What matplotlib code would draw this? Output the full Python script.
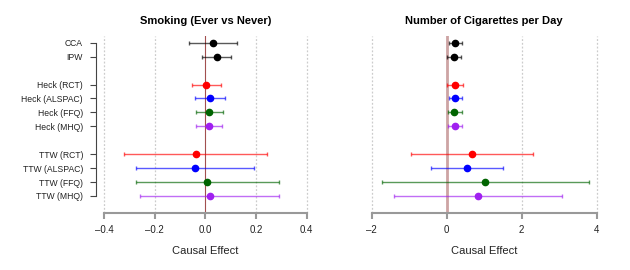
import matplotlib
matplotlib.use("Agg")
import matplotlib.pyplot as plt

plt.rcParams["font.family"] = ["Liberation Sans", "DejaVu Sans"]

labels = ["CCA", "IPW",
          "Heck (RCT)", "Heck (ALSPAC)", "Heck (FFQ)", "Heck (MHQ)",
          "TTW (RCT)", "TTW (ALSPAC)", "TTW (FFQ)", "TTW (MHQ)"]
rows = [1, 2, 4, 5, 6, 7, 9, 10, 11, 12]
colours = ["black", "black", "red", "blue", "darkgreen", "#A020F0",
           "red", "blue", "darkgreen", "#A020F0"]

# Smoking (Ever vs Never)
smk_est = [0.029, 0.045, 0.004, 0.017, 0.016, 0.016, -0.038, -0.042, 0.008, 0.017]
smk_lo = [-0.064, -0.012, -0.051, -0.042, -0.037, -0.035, -0.320, -0.275, -0.274, -0.257]
smk_hi = [0.124, 0.101, 0.063, 0.077, 0.070, 0.066, 0.244, 0.191, 0.290, 0.291]

# Number of cigarettes per day
cig_est = [0.23, 0.19, 0.22, 0.23, 0.20, 0.21, 0.67, 0.55, 1.03, 0.83]
cig_lo = [0.05, 0.02, 0.02, 0.07, 0.04, 0.04, -0.96, -0.41, -1.73, -1.41]
cig_hi = [0.41, 0.38, 0.43, 0.42, 0.40, 0.40, 2.29, 1.49, 3.79, 3.08]

smk_ticks = [-0.4, -0.2, 0.0, 0.2, 0.4]
smk_ticklabels = ["\u20130.4", "\u20130.2", "0.0", "0.2", "0.4"]
cig_ticks = [-2, 0, 2, 4]
cig_ticklabels = ["\u20132", "0", "2", "4"]


def forest(ax, est, lo, hi, ticks, ticklabels, title, zero_style):
    pad = 0.04 * (ticks[-1] - ticks[0])
    ax.set_xlim(ticks[0] - pad, ticks[-1] + pad)
    ax.set_ylim(13.2, 0.52)
    for t in ticks:
        if t != 0:
            ax.axvline(t, color="#cccccc", lw=0.9, ls=(0, (1.5, 1.5)), zorder=0)
    ax.axvline(0, zorder=1, **zero_style)
    for r, e, l, h, c in zip(rows, est, lo, hi, colours):
        ax.errorbar(e, r, xerr=[[e - l], [h - e]], fmt="none", ecolor=c,
                    alpha=0.65, elinewidth=1, capsize=1.5, capthick=1, zorder=2)
        ax.plot(e, r, "o", color=c, ms=4.5, zorder=3)
    for s in ["top", "right", "left"]:
        ax.spines[s].set_visible(False)
    ax.spines["bottom"].set_bounds(ticks[0], ticks[-1])
    ax.spines["bottom"].set_color("#999999")
    ax.spines["bottom"].set_linewidth(1.5)
    ax.set_xticks(ticks)
    ax.set_xticklabels(ticklabels)
    ax.tick_params(axis="x", colors="#999999", width=1.5, length=4, pad=5,
                   labelsize=7, labelcolor="#222222")
    ax.set_xlabel("Causal Effect", fontsize=8, color="#222222", labelpad=8)
    ax.set_title(title, fontsize=8, fontweight="bold", pad=9)


fig = plt.figure(figsize=(6.3, 2.7), dpi=100)
ax1 = fig.add_axes([0.1524, 0.2122, 0.3471, 0.6544])
ax2 = fig.add_axes([0.5757, 0.2122, 0.3857, 0.6544])

forest(ax1, smk_est, smk_lo, smk_hi, smk_ticks, smk_ticklabels,
       "Smoking (Ever vs Never)", dict(color="#8B2323", lw=0.8, alpha=0.8))
forest(ax2, cig_est, cig_lo, cig_hi, cig_ticks, cig_ticklabels,
       "Number of Cigarettes per Day", dict(color="#c89a9a", lw=2, alpha=0.9))

ax1.spines["left"].set_visible(True)
ax1.spines["left"].set_bounds(1, 12)
ax1.spines["left"].set_color("#444444")
ax1.spines["left"].set_linewidth(0.8)
ax1.set_yticks(rows)
ax1.set_yticklabels(labels)
ax1.tick_params(axis="y", colors="#444444", length=4.3, width=0.8,
                labelsize=6.2, labelcolor="#222222", pad=5)
ax2.set_yticks([])

fig.savefig("out.png", dpi=100)
